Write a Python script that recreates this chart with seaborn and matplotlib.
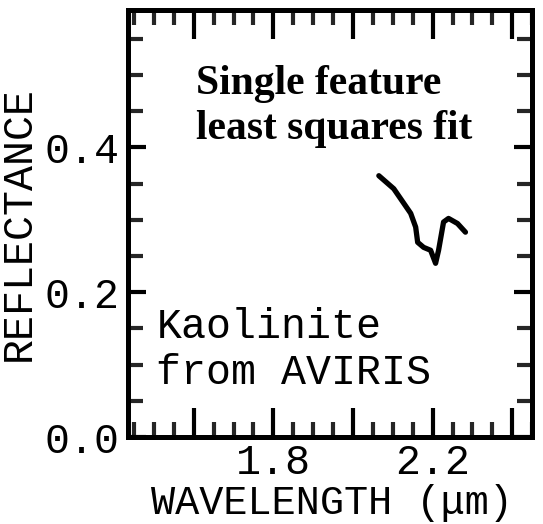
import matplotlib
matplotlib.use("Agg")
import matplotlib.pyplot as plt
import matplotlib.ticker as mticker
import seaborn as sns
import pandas as pd

# Data
wavelength = [2.065, 2.1025, 2.1275, 2.145, 2.1575, 2.1625, 2.1775, 2.195,
              2.2075, 2.215, 2.2275, 2.24, 2.2625, 2.2825]
reflectance = [0.361, 0.343, 0.323, 0.309, 0.290, 0.269, 0.262, 0.258,
               0.240, 0.258, 0.297, 0.302, 0.295, 0.283]
x_major = [1.6, 1.8, 2.0, 2.2, 2.4]
x_labels = ["", "1.8", "", "2.2", ""]
y_major = [0.0, 0.2, 0.4]
y_labels = ["0.0", "0.2", "0.4"]

sns.set_theme(style="white")
plt.rcParams['font.family'] = ['Liberation Mono', 'DejaVu Sans']

fig = plt.figure(figsize=(5.43, 5.24), dpi=100)
ax = fig.add_axes([0.2357, 0.166, 0.98 - 0.2357, 0.981 - 0.166])

df = pd.DataFrame({"wl": wavelength, "r": reflectance})
sns.lineplot(data=df, x="wl", y="r", ax=ax, color="black", linewidth=3.8,
             estimator=None, sort=False)

ax.set_xlim(1.435, 2.45)
ax.set_ylim(0.0, 0.59)

ax.xaxis.set_major_locator(mticker.FixedLocator(x_major))
ax.xaxis.set_major_formatter(mticker.FixedFormatter(x_labels))
ax.xaxis.set_minor_locator(mticker.MultipleLocator(0.05))
ax.yaxis.set_major_locator(mticker.FixedLocator(y_major))
ax.yaxis.set_major_formatter(mticker.FixedFormatter(y_labels))
ax.yaxis.set_minor_locator(mticker.MultipleLocator(0.05))

for s in ax.spines.values():
    s.set_visible(True)
    s.set_color("black")
    s.set_linewidth(3.6)

ax.tick_params(axis="x", which="major", direction="in", length=21, width=3,
               top=True, bottom=True, labelsize=30, pad=4.5, colors="black")
ax.tick_params(axis="x", which="minor", direction="in", length=11, width=3,
               top=True, bottom=True)
ax.tick_params(axis="y", which="major", direction="in", length=13, width=3,
               left=True, right=True, labelsize=30, pad=6, colors="black")
ax.tick_params(axis="y", which="minor", direction="in", length=11, width=3,
               left=True, right=True)

ax.set_xlabel("WAVELENGTH (\u03bcm)", fontsize=29, color="black",
              va="baseline")
ax.xaxis.set_label_coords(0.612, 1 - 514 / 524, transform=fig.transFigure)
ax.set_ylabel("REFLECTANCE", fontsize=30, labelpad=4, color="black")

ax.text(0.168, 0.775, "Single feature\nleast squares fit", transform=ax.transAxes,
        ha="left", va="center", fontsize=30, fontweight="bold",
        family=["Liberation Serif", "DejaVu Serif"], linespacing=1.24,
        multialignment="left", color="black")
ax.text(0.07, 0.204, "Kaolinite\nfrom AVIRIS", transform=ax.transAxes,
        ha="left", va="center", fontsize=30, linespacing=1.19, color="black")

fig.savefig("out.png", dpi=100)
